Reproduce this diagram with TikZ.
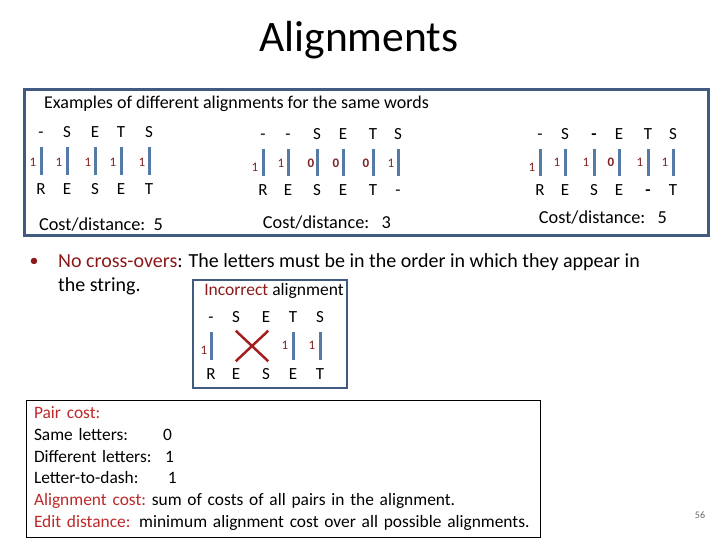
\documentclass[tikz,border=0pt]{standalone}
\usepackage{fontspec}
\setmainfont{Carlito}
\definecolor{FrameBlue}{RGB}{65, 90, 130}
\definecolor{BarBlue}{RGB}{84, 122, 165}
\definecolor{NumRed}{RGB}{125, 35, 35}
\definecolor{DarkRed}{RGB}{140, 25, 25}
\definecolor{LabelRed}{RGB}{190, 40, 40}
\definecolor{CrossRed}{RGB}{165, 30, 30}
\usetikzlibrary{positioning, shapes.misc}

\begin{document}
\begin{tikzpicture}[
        x=1pt, y=-1pt,
        letter/.style={font=\fontsize{17}{20}\selectfont, inner sep=0pt, text height=1.6ex, text depth=0.2ex},
        num/.style={font=\fontsize{13}{15}\selectfont, text=NumRed, inner sep=0pt},
        zero/.style={num, font=\fontsize{13}{15}\selectfont\bfseries},
        bar/.style={draw=BarBlue, line width=3pt, shorten <=13pt, shorten >=16pt},
        costlabel/.style={font=\fontsize{18.3}{22}\selectfont, inner sep=0pt},
        body/.style={font=\fontsize{20}{24}\selectfont, inner sep=0pt, anchor=west}
    ]
        \useasboundingbox (0,0) rectangle (720,540);

        % Title and frame
        \node[font=\fontsize{43.5}{52}\selectfont] (title) at (359,40) {Alignments};
        \node[draw=FrameBlue, line width=3pt, minimum width=684pt, minimum height=145pt] (frame) at (366,162.5) {};
        \node[font=\fontsize{18}{22}\selectfont, inner sep=0pt, anchor=west] (examples) at (44,104) {Examples of different alignments for the same words};

        % Alignment 1
        \node[letter] (At1) at (41,134) {-};
        \node[letter] (At2) at (67,134) {S};
        \node[letter] (At3) at (95,134) {E};
        \node[letter] (At4) at (121,134) {T};
        \node[letter] (At5) at (149,134) {S};
        \node[letter] (Ab1) at (41,191) {R};
        \node[letter] (Ab2) at (67,191) {E};
        \node[letter] (Ab3) at (95,191) {S};
        \node[letter] (Ab4) at (121,191) {E};
        \node[letter] (Ab5) at (149,191) {T};
        \node[num] (An1) at (33,162) {1};
        \node[num] (An2) at (59,162) {1};
        \node[num] (An3) at (88,162) {1};
        \node[num] (An4) at (113,162) {1};
        \node[num] (An5) at (142,162) {1};
        \draw[bar] (At1.center) -- (Ab1.center);
        \draw[bar] (At2.center) -- (Ab2.center);
        \draw[bar] (At3.center) -- (Ab3.center);
        \draw[bar] (At4.center) -- (Ab4.center);
        \draw[bar] (At5.center) -- (Ab5.center);
        \node[costlabel] (Acost) at (101,225) {Cost/distance:\ \ 5};

        % Alignment 2
        \node[letter] (Bt1) at (263,136) {-};
        \node[letter] (Bt2) at (288,136) {-};
        \node[letter] (Bt3) at (317,136) {S};
        \node[letter] (Bt4) at (343,136) {E};
        \node[letter] (Bt5) at (373,136) {T};
        \node[letter] (Bt6) at (398,136) {S};
        \node[letter] (Bb1) at (263,192) {R};
        \node[letter] (Bb2) at (288,192) {E};
        \node[letter] (Bb3) at (317,192) {S};
        \node[letter] (Bb4) at (343,192) {E};
        \node[letter] (Bb5) at (373,192) {T};
        \node[letter] (Bb6) at (398,192) {-};
        \node[num] (Bn1) at (255,167) {1};
        \node[num] (Bn2) at (281,163) {1};
        \node[zero] (Bn3) at (311,163) {0};
        \node[zero] (Bn4) at (336,163) {0};
        \node[zero] (Bn5) at (366,163) {0};
        \node[num] (Bn6) at (391,163) {1};
        \draw[bar] (Bt1.center) -- (Bb1.center);
        \draw[bar] (Bt2.center) -- (Bb2.center);
        \draw[bar] (Bt3.center) -- (Bb3.center);
        \draw[bar] (Bt4.center) -- (Bb4.center);
        \draw[bar] (Bt5.center) -- (Bb5.center);
        \draw[bar] (Bt6.center) -- (Bb6.center);
        \node[costlabel] (Bcost) at (327,223) {Cost/distance:\ \ \ 3};

        % Alignment 3
        \node[letter] (Ct1) at (540,136) {-};
        \node[letter] (Ct2) at (565,136) {S};
        \node[letter] (Ct3) at (594,136) {\bfseries -};
        \node[letter] (Ct4) at (619,136) {E};
        \node[letter] (Ct5) at (648,136) {T};
        \node[letter] (Ct6) at (673,136) {S};
        \node[letter] (Cb1) at (540,192) {R};
        \node[letter] (Cb2) at (565,192) {E};
        \node[letter] (Cb3) at (594,192) {S};
        \node[letter] (Cb4) at (619,192) {E};
        \node[letter] (Cb5) at (648,192) {\bfseries -};
        \node[letter] (Cb6) at (673,192) {T};
        \node[num] (Cn1) at (532,167) {1};
        \node[num] (Cn2) at (557,162) {1};
        \node[num] (Cn3) at (586,162) {1};
        \node[zero] (Cn4) at (611,162) {0};
        \node[num] (Cn5) at (640,162) {1};
        \node[num] (Cn6) at (665,162) {1};
        \draw[bar] (Ct1.center) -- (Cb1.center);
        \draw[bar] (Ct2.center) -- (Cb2.center);
        \draw[bar] (Ct3.center) -- (Cb3.center);
        \draw[bar] (Ct4.center) -- (Cb4.center);
        \draw[bar] (Ct5.center) -- (Cb5.center);
        \draw[bar] (Ct6.center) -- (Cb6.center);
        \node[costlabel] (Ccost) at (603,218) {Cost/distance:\ \ \ 5};

        % No cross-overs
        \node[font=\fontsize{18}{22}\selectfont, text=DarkRed, inner sep=0pt] (dot) at (34,262) {\textbullet};
        \node[body] (rule1) at (58,262) {\textcolor{DarkRed}{No cross-overs}: The letters must be in the order in which they appear in};
        \node[body] (rule2) at (58,286) {the string.};

        % Incorrect alignment
        \node[draw=FrameBlue, line width=1.5pt, minimum width=154pt, minimum height=108pt] (incbox) at (270,334) {};
        \node[font=\fontsize{17.5}{21}\selectfont, inner sep=0pt] (inctitle) at (274,291) {\textcolor{DarkRed}{Incorrect} alignment};
        \node[letter] (It1) at (211,319) {-};
        \node[letter] (It2) at (236,319) {S};
        \node[letter] (It3) at (266,319) {E};
        \node[letter] (It4) at (293,319) {T};
        \node[letter] (It5) at (320,319) {S};
        \node[letter] (Ib1) at (211,376) {R};
        \node[letter] (Ib2) at (236,376) {E};
        \node[letter] (Ib3) at (266,376) {S};
        \node[letter] (Ib4) at (293,376) {E};
        \node[letter] (Ib5) at (320,376) {T};
        \node[num] (In1) at (204,350) {1};
        \node[num] (In4) at (285,345) {1};
        \node[num] (In5) at (312,345) {1};
        \draw[bar] (It1.center) -- (Ib1.center);
        \draw[bar] (It4.center) -- (Ib4.center);
        \draw[bar] (It5.center) -- (Ib5.center);
        \node[draw=CrossRed, cross out, line width=2.5pt, minimum width=30pt, minimum height=28pt, inner sep=0pt] (X) at (252,346) {};

        % Pair costs
        \node[draw, line width=0.8pt, minimum width=514pt, minimum height=137pt, text width=498pt, align=left,
              font=\fontsize{17.4}{21.8}\selectfont] (info) at (283,468.5) {%
            \textcolor{LabelRed}{Pair cost:}\\
            \makebox[129pt][l]{Same letters:}0\\
            \makebox[131pt][l]{Different letters:}1\\
            \makebox[134pt][l]{Letter-to-dash:}1\\
            \textcolor{LabelRed}{Alignment cost:}\ sum of costs of all pairs in the alignment.\\
            \textcolor{LabelRed}{Edit distance:} minimum alignment cost over all possible alignments.};

        \node[font=\fontsize{10}{12}\selectfont, text=black!60] (page) at (700,515) {56};
    \end{tikzpicture}
\end{document}
